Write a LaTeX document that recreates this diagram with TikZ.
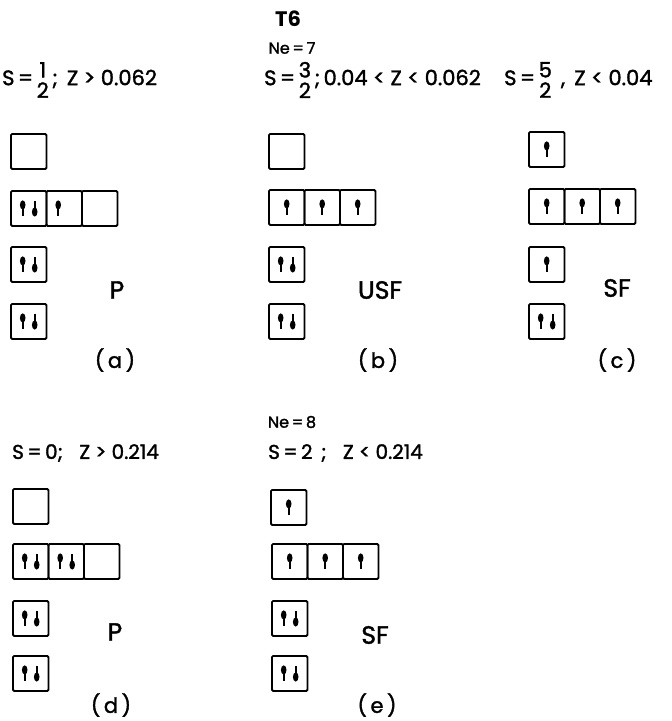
\documentclass[tikz,border=0pt]{standalone}
\usepackage{fontspec}
\setmainfont{Poppins}[UprightFeatures={FakeBold=1.6}]
\newcommand\stackfrac[2]{\ensuremath{\vcenter{\hbox{\shortstack{#1\\[2pt]#2}}}}}
\tikzset{
  orb/.style={draw, line width=1.9pt, rounded corners=1.2pt, minimum width=35.5pt,
    minimum height=35pt, inner sep=0pt, anchor=north west},
  txt/.style={font=\fontsize{20}{24}\selectfont, anchor=west, inner sep=0pt},
  txttop/.style={font=\fontsize{21}{25}\selectfont, anchor=west, inner sep=0pt},
  lbl/.style={font=\fontsize{25}{30}\selectfont, inner sep=0pt},
  par/.style={font=\fontsize{21}{25}\selectfont, inner sep=0pt},
  hdr/.style={font=\fontsize{16}{19}\selectfont, inner sep=0pt},
  upspin/.pic={\fill (0,-3.5) ellipse [x radius=2.8pt, y radius=4.6pt];
               \draw[line width=1.6pt] (0,-3) -- (0,7.5);},
  downspin/.pic={\fill (0,3.5) ellipse [x radius=2.8pt, y radius=4.6pt];
               \draw[line width=1.6pt] (0,3) -- (0,-7.5);},
}
\newcommand\spinu[1]{\pic at (#1.center) {upspin};}
\newcommand\spinuoff[1]{\pic at ([xshift=-6pt]#1.center) {upspin};}
\newcommand\spinud[1]{\pic at ([xshift=-6pt]#1.center) {upspin};
  \pic at ([xshift=6pt]#1.center) {downspin};}
\begin{document}
\begin{tikzpicture}[x=1pt,y=-1pt]
\useasboundingbox (0,0) rectangle (672,721);
% headers
\node[hdr, font=\fontsize{21}{24}\selectfont\bfseries] (t6) at (288,19) {T6};
\node[hdr] (ne7) at (292,48) {Ne\,=\,7};
\node[txttop] (sa) at (2,80) {S\,=\,\stackfrac{1}{2}\,;\, Z > 0.062};
\node[txttop] (sb) at (264,80) {S\,=\,\stackfrac{3}{2}\,;\,0.04 < Z < 0.062};
\node[txttop] (sc) at (504,80) {S\,=\,\stackfrac{5}{2}\, ,\, Z < 0.04};
% column a
\node[orb] (a1) at (10,133) {};
\node[orb] (a2a) at (10,190) {};
\node[orb] (a2b) at (45.5,190) {};
\node[orb] (a2c) at (81,190) {};
\node[orb] (a3) at (10,246) {};
\node[orb] (a4) at (10,303) {};
\spinud{a2a}\spinuoff{a2b}\spinud{a3}\spinud{a4}
\node[lbl] (pa) at (117,290) {P};
\node[par] (la) at (115,360) {(\,a\,)};
% column b
\node[orb] (b1) at (268,133) {};
\node[orb] (b2a) at (268,189) {};
\node[orb] (b2b) at (303.5,189) {};
\node[orb] (b2c) at (339,189) {};
\node[orb] (b3) at (268,246) {};
\node[orb] (b4) at (268,303) {};
\spinu{b2a}\spinu{b2b}\spinu{b2c}\spinud{b3}\spinud{b4}
\node[lbl] (pb) at (380,290) {USF};
\node[par] (lb) at (378,360) {(\,b\,)};
% column c
\node[orb] (c1) at (528,131) {};
\node[orb] (c2a) at (528,188) {};
\node[orb] (c2b) at (563.5,188) {};
\node[orb] (c2c) at (599,188) {};
\node[orb] (c3) at (528,246) {};
\node[orb] (c4) at (528,303) {};
\spinu{c1}\spinu{c2a}\spinu{c2b}\spinu{c2c}\spinu{c3}\spinud{c4}
\node[lbl] (pc) at (617,288) {SF};
\node[par] (lc) at (617,360) {(\,c\,)};
% bottom
\node[hdr] (ne8) at (292,422) {Ne\,=\,8};
\node[txt] (sd) at (12,453) {S\,=\,0;\;\; Z > 0.214};
\node[txt] (se) at (268,453) {S\,=\,2 \,;\;\; Z < 0.214};
% column d
\node[orb] (d1) at (12,488) {};
\node[orb] (d2a) at (12,543) {};
\node[orb] (d2b) at (47.5,543) {};
\node[orb] (d2c) at (83,543) {};
\node[orb] (d3) at (12,600) {};
\node[orb] (d4) at (12,655) {};
\spinud{d2a}\spinud{d2b}\spinud{d3}\spinud{d4}
\node[lbl] (pd) at (115,632) {P};
\node[par] (ld) at (111,705) {(\,d\,)};
% column e
\node[orb] (e1) at (270,489) {};
\node[orb] (e2a) at (271,543) {};
\node[orb] (e2b) at (306.5,543) {};
\node[orb] (e2c) at (342,543) {};
\node[orb] (e3) at (271,600) {};
\node[orb] (e4) at (271,655) {};
\spinu{e1}\spinu{e2a}\spinu{e2b}\spinu{e2c}\spinud{e3}\spinud{e4}
\node[lbl] (pe) at (375,635) {SF};
\node[par] (le) at (377,705) {(\,e\,)};
\end{tikzpicture}
\end{document}
